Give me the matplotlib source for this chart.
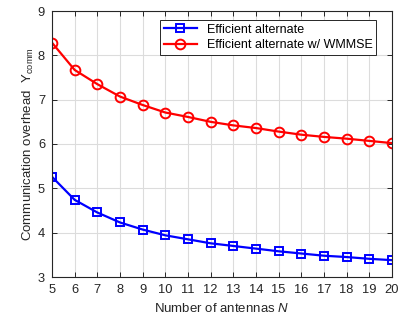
import matplotlib
matplotlib.use('Agg')
import matplotlib.pyplot as plt
import numpy as np

antennas = list(range(5, 21))
eff_alt = [5.26, 4.74, 4.455, 4.23, 4.07, 3.94, 3.85, 3.76, 3.70, 3.64, 3.58, 3.53, 3.48, 3.45, 3.41, 3.38]
eff_wmmse = [8.285, 7.67, 7.35, 7.07, 6.88, 6.71, 6.61, 6.50, 6.42, 6.36, 6.28, 6.21, 6.16, 6.12, 6.07, 6.02]

plt.rcParams['font.family'] = ['Liberation Sans', 'DejaVu Sans']
plt.rcParams['mathtext.fontset'] = 'custom'
plt.rcParams['mathtext.rm'] = 'Liberation Sans'
plt.rcParams['mathtext.it'] = 'Liberation Sans:italic'

dark = '#262626'

fig = plt.figure(figsize=(4.04, 3.16), dpi=100)
ax = fig.add_axes([52 / 404, 1 - 277 / 316, 340 / 404, 266 / 316])

ax.plot(antennas, eff_alt, color='blue', marker='s', markersize=5.5,
        markerfacecolor='none', markeredgewidth=1.4, linewidth=1.6,
        label='Efficient alternate')
ax.plot(antennas, eff_wmmse, color='red', marker='o', markersize=7,
        markerfacecolor='none', markeredgewidth=1.4, linewidth=1.6,
        label='Efficient alternate w/ WMMSE')

ax.set_xlim(5, 20)
ax.set_ylim(3, 9)
ax.set_xticks(antennas)
ax.set_yticks(range(3, 10))
ax.grid(True, color='#dcdcdc', linewidth=0.8)
ax.set_axisbelow(True)
ax.tick_params(direction='in', top=True, right=True, labelsize=9.3,
               colors=dark, length=3.5, width=0.7, pad=5)
for s in ax.spines.values():
    s.set_color(dark)
    s.set_linewidth(0.8)

ax.set_xlabel('Number of antennas $N$', fontsize=9.5, color=dark, labelpad=4)
ax.set_ylabel(r'Communication overhead  $\mathrm{Y}_{\mathrm{comm}}$', fontsize=9.5,
              color=dark, labelpad=1)

leg = ax.legend(loc='upper right', bbox_to_anchor=(0.953, 0.966), fontsize=9,
                fancybox=False, framealpha=1, edgecolor=dark,
                borderpad=0.3, handlelength=2.6, labelspacing=0.25,
                borderaxespad=0)
leg.get_frame().set_linewidth(0.7)

fig.savefig('out.png', dpi=100)
